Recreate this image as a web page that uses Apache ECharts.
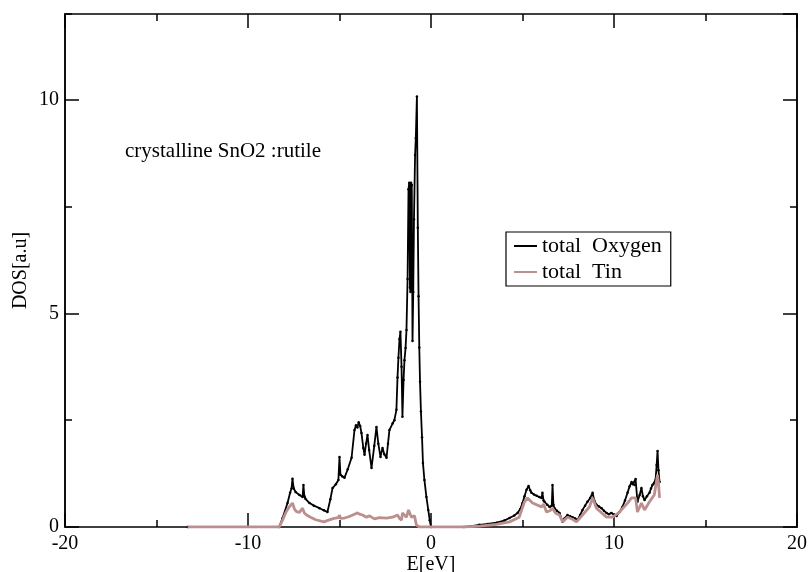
<!DOCTYPE html>
<html>
<head>
<meta charset="utf-8">
<script src="https://cdn.jsdelivr.net/npm/echarts@6/dist/echarts.min.js"></script>
<style>
  html, body { margin: 0; padding: 0; background: #fff; }
  #chart { width: 811px; height: 572px; }
</style>
</head>
<body>
<div id="chart"></div>
<script>
// total Oxygen DOS
var oxyE = [-13.3, -8.3, -8.11, -7.84, -7.7, -7.62, -7.57, -7.5, -7.4, -7.19, -7.02, -6.97, -6.92, -6.86, -6.64, -6.4, -6.09, -5.85, -5.66,
  -5.5, -5.38, -5.2, -5.06, -5.0, -4.95, -4.85, -4.73, -4.55, -4.34, -4.18, -4.1, -4.02, -3.95, -3.87, -3.8, -3.7, -3.63, -3.55, -3.47,
  -3.38, -3.25, -3.1, -2.98, -2.88, -2.76, -2.65, -2.55, -2.43, -2.35, -2.27, -2.1, -2.0, -1.89, -1.83, -1.78, -1.72, -1.67, -1.61,
  -1.56, -1.5, -1.45, -1.39, -1.34, -1.28, -1.23, -1.19, -1.15, -1.12, -1.09, -1.05, -1.01, -0.97, -0.93, -0.87, -0.83, -0.77, -0.72,
  -0.68, -0.64, -0.6, -0.55, -0.49, -0.44, -0.36, -0.25, -0.15, -0.07, 0.0, 1.8, 2.2, 2.65, 3.1, 3.58, 4.0, 4.29, 4.55, 4.73, 4.88,
  5.0, 5.11, 5.22, 5.33, 5.42, 5.49, 5.63, 5.77, 5.92, 6.04, 6.09, 6.15, 6.2, 6.35, 6.48, 6.6, 6.64, 6.69, 6.75, 6.88, 7.02, 7.19,
  7.3, 7.46, 7.6, 7.73, 7.88, 8.0, 8.15, 8.28, 8.42, 8.55, 8.7, 8.83, 8.92, 9.04, 9.18, 9.32, 9.45, 9.59, 9.72, 9.86, 10.0, 10.14,
  10.3, 10.46, 10.6, 10.74, 10.85, 10.96, 11.02, 11.07, 11.12, 11.18, 11.28, 11.4, 11.5, 11.58, 11.67, 11.8, 11.94, 12.02, 12.1,
  12.2, 12.27, 12.33, 12.38, 12.43, 12.49];
var oxyDos = [0, 0, 0.21, 0.56, 0.8, 0.9, 1.13, 0.9, 0.82, 0.75, 0.7, 0.98, 0.72, 0.66, 0.56, 0.5, 0.44, 0.39, 0.35,
  0.65, 0.91, 1.0, 1.1, 1.64, 1.22, 1.18, 1.15, 1.35, 1.62, 2.27, 2.38, 2.33, 2.45, 2.36, 2.2, 1.85, 1.69, 1.95, 2.15,
  1.8, 1.38, 1.9, 2.34, 1.95, 1.64, 1.85, 1.7, 1.62, 1.95, 2.27, 2.42, 2.5, 2.74, 3.5, 3.96, 4.4, 4.57, 3.75,
  2.58, 3.44, 3.9, 4.19, 4.61, 5.8, 7.9, 8.05, 5.6, 5.5, 8.05, 8.0, 4.35, 5.5, 7.2, 8.7, 9.1, 10.07, 7.0,
  5.4, 4.2, 3.4, 2.7, 2.1, 1.5, 1.1, 0.7, 0.4, 0.16, 0, 0, 0.02, 0.05, 0.07, 0.1, 0.15, 0.21, 0.27, 0.33, 0.42,
  0.56, 0.72, 0.87, 0.96, 0.86, 0.8, 0.76, 0.73, 0.7, 0.68, 0.8, 0.62, 0.59, 0.52, 0.47, 0.5, 0.98, 0.52, 0.44, 0.38, 0.33, 0.12,
  0.2, 0.28, 0.25, 0.23, 0.2, 0.16, 0.28, 0.4, 0.5, 0.59, 0.68, 0.8, 0.62, 0.52, 0.48, 0.44, 0.38, 0.33, 0.3, 0.33, 0.28, 0.26,
  0.35, 0.47, 0.62, 0.8, 0.95, 1.05, 1.0, 1.03, 0.98, 1.12, 0.59, 0.75, 0.91, 0.72, 0.63, 0.72, 0.8, 0.9, 0.98,
  1.02, 1.1, 1.45, 1.78, 1.33, 1.05];

// total Tin DOS
var tinE = [-13.3, -8.3, -8.11, -7.92, -7.73, -7.57, -7.46, -7.35, -7.19, -7.02, -6.92, -6.8, -6.58, -6.3, -5.85, -5.6, -5.3, -5.06,
  -5.0, -4.95, -4.73, -4.5, -4.18, -4.02, -3.9, -3.74, -3.53, -3.36, -3.09, -2.82, -2.43, -2.1, -1.83, -1.72, -1.61, -1.56, -1.34,
  -1.23, -1.07, -0.9, -0.8, -0.63, 1.8, 2.65, 3.58, 4.29, 4.82, 5.11, 5.27, 5.55, 6.04, 6.15, 6.31, 6.5, 6.64, 6.8, 7.02, 7.19,
  7.46, 7.73, 7.95, 8.28, 8.66, 8.83, 9.04, 9.59, 9.92, 10.3, 10.74, 10.96, 11.18, 11.28, 11.5, 11.67, 11.94, 12.2, 12.38, 12.43, 12.49];
var tinDos = [0, 0, 0.16, 0.35, 0.48, 0.56, 0.42, 0.36, 0.34, 0.44, 0.33, 0.28, 0.23, 0.17, 0.12, 0.16, 0.2, 0.22,
  0.28, 0.2, 0.21, 0.24, 0.3, 0.33, 0.3, 0.28, 0.23, 0.26, 0.19, 0.22, 0.21, 0.23, 0.28, 0.2, 0.16, 0.33, 0.23,
  0.4, 0.23, 0.26, 0.05, 0, 0, 0.02, 0.06, 0.12, 0.23, 0.59, 0.68, 0.56, 0.47, 0.54, 0.35, 0.38, 0.44, 0.33, 0.28, 0.12,
  0.23, 0.18, 0.12, 0.28, 0.47, 0.68, 0.44, 0.23, 0.23, 0.35, 0.56, 0.68, 0.68, 0.35, 0.56, 0.4, 0.59, 0.75, 1.22, 1.03, 0.68];

function zip(a, b) {
  var out = [];
  for (var i = 0; i < a.length; i++) out.push([a[i], b[i]]);
  return out;
}

var FONT = 'Liberation Serif';
var black = '#000';
var tinColor = '#bc8f8f';

var chart = echarts.init(document.getElementById('chart'));

var lineStyle = { color: black, width: 1.5 };

// one helper for the 4 frame axes, ticks inside like xmgrace
function frameAxis(pos, interval, tickLen, extra) {
  var ax = {
    type: 'value', position: pos,
    axisLine: { show: true, onZero: false, lineStyle: lineStyle },
    axisTick: { inside: true, length: tickLen, lineStyle: lineStyle },
    axisLabel: { show: false },
    splitLine: { show: false },
    interval: interval
  };
  for (var k in extra) ax[k] = extra[k];
  return ax;
}

chart.setOption({
  animation: false,
  backgroundColor: '#fff',
  textStyle: { fontFamily: FONT },
  grid: { left: 65, right: 14, top: 14, bottom: 45, containLabel: false, outerBoundsMode: 'none' },
  legend: {
    left: 506, top: 232,
    orient: 'vertical',
    backgroundColor: '#fff',
    borderColor: black, borderWidth: 1.2, borderRadius: 0,
    padding: [3, 9, 3, 8],
    itemGap: 4, itemWidth: 23, itemHeight: 2,
    icon: 'rect',
    textStyle: { fontFamily: FONT, fontSize: 22, color: black },
    data: ['total  Oxygen', 'total  Tin']
  },
  xAxis: [
    frameAxis('bottom', 10, 14, {
      min: -20, max: 20,
      name: 'E[eV]', nameLocation: 'middle', nameGap: 28, nameMoveOverlap: false,
      nameTextStyle: { fontFamily: FONT, fontSize: 20, color: black },
      minorTick: { show: true, splitNumber: 2, length: 7, lineStyle: lineStyle },
      axisLabel: { show: true, fontFamily: FONT, fontSize: 20, color: black, margin: 7 }
    }),
    frameAxis('top', 10, 14, {
      min: -20, max: 20,
      minorTick: { show: true, splitNumber: 2, length: 7, lineStyle: lineStyle }
    })
  ],
  yAxis: [
    frameAxis('left', 5, 14, {
      min: 0, max: 12,
      name: 'DOS[a.u]', nameLocation: 'middle', nameGap: 34, nameMoveOverlap: false,
      nameTextStyle: { fontFamily: FONT, fontSize: 20, color: black },
      axisLabel: { show: true, fontFamily: FONT, fontSize: 20, color: black, margin: 6, showMaxLabel: false }
    }),
    frameAxis('left', 2.5, 7, { min: 0, max: 12 }),
    frameAxis('right', 5, 14, { min: 0, max: 12 }),
    frameAxis('right', 2.5, 7, { min: 0, max: 12 })
  ],
  graphic: [{
    type: 'text', left: 125, top: 141,
    style: { text: 'crystalline SnO2 :rutile', fontFamily: FONT, fontSize: 21, fill: black }
  }],
  series: [{
    name: 'total  Oxygen',
    type: 'line',
    data: zip(oxyE, oxyDos),
    showSymbol: true, symbol: 'circle', symbolSize: 2.5,
    itemStyle: { color: black },
    lineStyle: { color: black, width: 1.8 },
    z: 2
  }, {
    name: 'total  Tin',
    type: 'line',
    data: zip(tinE, tinDos),
    showSymbol: false, symbol: 'none',
    itemStyle: { color: tinColor },
    lineStyle: { color: tinColor, width: 2.8 },
    z: 3
  }]
});
</script>
</body>
</html>
